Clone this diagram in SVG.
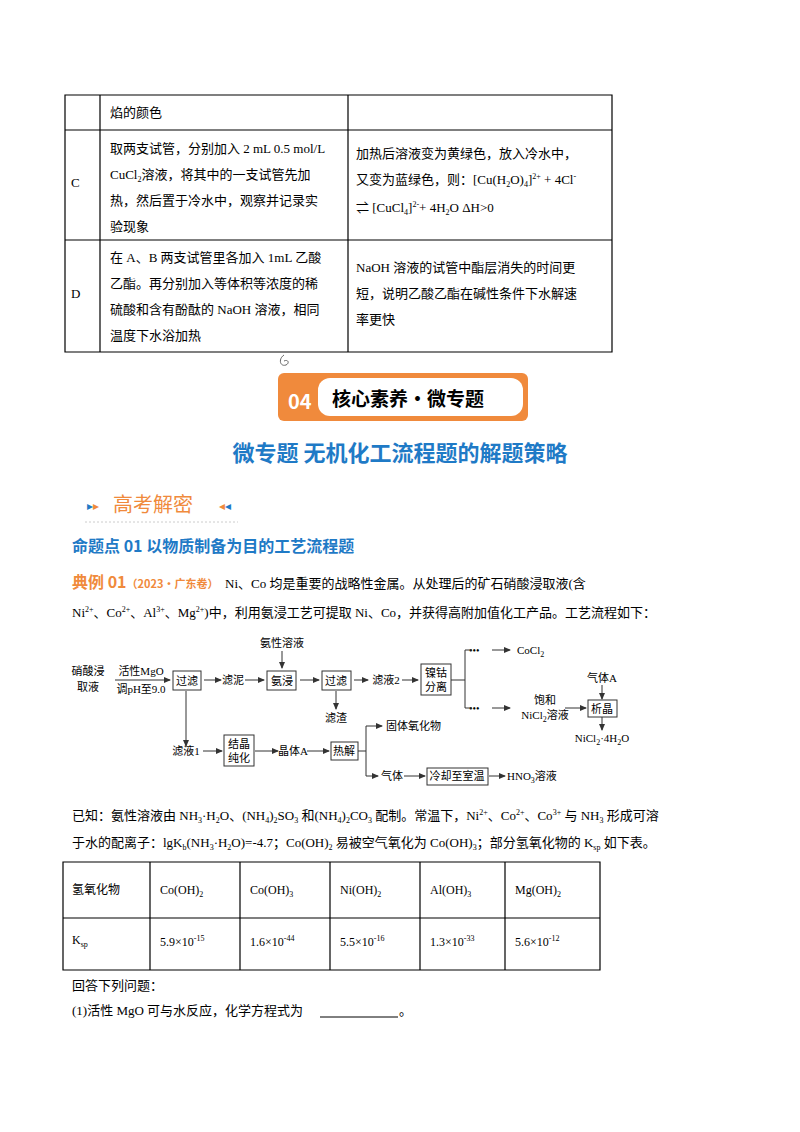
<svg xmlns="http://www.w3.org/2000/svg" width="800" height="1132" viewBox="0 0 800 1132">
<style>
text{font-family:"Liberation Serif","Noto Sans CJK SC",serif;font-size:13px;fill:#000}
.s{font-size:12px}
.f{font-size:11px}
.t{stroke:#000;stroke-width:1.2;fill:none}
.b{fill:#fff;stroke:#333;stroke-width:1}
.c{stroke:#333;stroke-width:1;fill:none}
.sub{font-size:8px}
.h{font-family:"Noto Sans CJK SC",sans-serif;font-weight:bold}
</style>
<defs><marker id="a" markerWidth="7" markerHeight="6" refX="6" refY="3" orient="auto"><path d="M0,0L7,3L0,6z" fill="#333"/></marker></defs>
<rect width="800" height="1132" fill="#fff"/>
<g id="table1">
<path class="t" d="M65,95V352H612V95ZM100,95V352M348,95V352M65,130H612M65,240H612"/>
<text x="110" y="117">焰的颜色</text>
<text x="71" y="187">C</text>
<text x="110" y="153">取两支试管，分别加入 2 mL 0.5 mol/L</text>
<text x="110" y="179">CuCl<tspan class="sub" dy="3">2</tspan><tspan dy="-3">溶液，将其中的一支试管先加</tspan></text>
<text x="110" y="205">热，然后置于冷水中，观察并记录实</text>
<text x="110" y="231">验现象</text>
<text x="356" y="158">加热后溶液变为黄绿色，放入冷水中，</text>
<text x="356" y="184">又变为蓝绿色，则：[Cu(H<tspan class="sub" dy="3">2</tspan><tspan dy="-3">O)</tspan><tspan class="sub" dy="3">4</tspan><tspan dy="-3">]</tspan><tspan class="sub" dy="-5">2+</tspan><tspan dy="5"> + 4Cl</tspan><tspan class="sub" dy="-5">-</tspan></text>
<text x="356" y="212">⇌ [CuCl<tspan class="sub" dy="3">4</tspan><tspan dy="-3">]</tspan><tspan class="sub" dy="-5">2-</tspan><tspan dy="5">+ 4H</tspan><tspan class="sub" dy="3">2</tspan><tspan dy="-3">O  ΔH&gt;0</tspan></text>
<text x="71" y="298">D</text>
<text x="110" y="262">在 A、B 两支试管里各加入 1mL 乙酸</text>
<text x="110" y="288">乙酯。再分别加入等体积等浓度的稀</text>
<text x="110" y="314">硫酸和含有酚酞的 NaOH 溶液，相同</text>
<text x="110" y="340">温度下水浴加热</text>
<text x="356" y="272">NaOH 溶液的试管中酯层消失的时间更</text>
<text x="356" y="298">短，说明乙酸乙酯在碱性条件下水解速</text>
<text x="356" y="324">率更快</text>
</g>
<g id="banner">
<path d="M284,355c-6,4 -4,12 2,10c4,-2 2,-6 -2,-4" stroke="#666" fill="none"/>
<rect x="278" y="373" width="250" height="48" rx="6" fill="#f08a3c"/>
<rect x="318" y="378" width="205" height="38" rx="12" fill="#fff"/>
<text x="288" y="409" class="h" style="font-size:20px;fill:#fff">04</text>
<text x="332" y="406" class="h" style="font-size:19px">核心素养·微专题</text>
<text x="400" y="461" class="h" text-anchor="middle" style="font-size:22px;fill:#1f7ac6">微专题  无机化工流程题的解题策略</text>
<text x="87" y="510" style="font-size:12px;fill:#1f7ac6">▸<tspan fill="#f08a3c">▸</tspan></text>
<text x="113" y="512" style="font-family:'Noto Sans CJK SC',sans-serif;font-size:20px;fill:#f08a3c">高考解密</text>
<text x="219" y="510" style="font-size:12px;fill:#f08a3c">◂<tspan fill="#1f7ac6">◂</tspan></text>
<line x1="85" y1="522" x2="238" y2="522" stroke="#ccc" stroke-dasharray="2,2"/>
<text x="72" y="552" class="h" style="font-size:16px;fill:#1f7ac6">命题点 01  以物质制备为目的工艺流程题</text>
<text x="72" y="588" class="h" style="font-size:16px;fill:#f08a3c">典例 01<tspan style="font-size:11px">（2023·广东卷）</tspan></text>
<text x="225" y="588">Ni、Co 均是重要的战略性金属。从处理后的矿石硝酸浸取液(含</text>
<text x="72" y="617">Ni<tspan class="sub" dy="-5">2+</tspan><tspan dy="5">、Co</tspan><tspan class="sub" dy="-5">2+</tspan><tspan dy="5">、Al</tspan><tspan class="sub" dy="-5">3+</tspan><tspan dy="5">、Mg</tspan><tspan class="sub" dy="-5">2+</tspan><tspan dy="5">)中，利用氨浸工艺可提取 Ni、Co，并获得高附加值化工产品。工艺流程如下：</tspan></text>
</g>
<g id="connectors" class="c">
<line x1="115" y1="680" x2="170" y2="680" marker-end="url(#a)"/>
<line x1="204" y1="680" x2="221" y2="680" marker-end="url(#a)"/>
<line x1="245" y1="680" x2="264" y2="680" marker-end="url(#a)"/>
<line x1="282" y1="651" x2="282" y2="668" marker-end="url(#a)"/>
<line x1="300" y1="680" x2="319" y2="680" marker-end="url(#a)"/>
<line x1="336" y1="691" x2="336" y2="709" marker-end="url(#a)"/>
<line x1="354" y1="680" x2="368" y2="680" marker-end="url(#a)"/>
<line x1="402" y1="680" x2="418" y2="680" marker-end="url(#a)"/>
<path d="M451,680H465M465,650V708"/>
<text x="469" y="654" style="font-size:10px;stroke:none">•••</text>
<text x="469" y="712" style="font-size:10px;stroke:none">•••</text>
<line x1="465" y1="650" x2="472" y2="650"/>
<line x1="465" y1="708" x2="472" y2="708"/>
<line x1="492" y1="650" x2="510" y2="650" marker-end="url(#a)"/>
<line x1="492" y1="708" x2="510" y2="708" marker-end="url(#a)"/>
<line x1="565" y1="708" x2="586" y2="708" marker-end="url(#a)"/>
<line x1="602" y1="685" x2="602" y2="699" marker-end="url(#a)"/>
<line x1="602" y1="717" x2="602" y2="730" marker-end="url(#a)"/>
<line x1="186" y1="691" x2="186" y2="746" marker-end="url(#a)"/>
<line x1="203" y1="751" x2="222" y2="751" marker-end="url(#a)"/>
<line x1="255" y1="751" x2="278" y2="751" marker-end="url(#a)"/>
<line x1="307" y1="751" x2="329" y2="751" marker-end="url(#a)"/>
<path d="M358,751H366M366,726V776"/>
<line x1="366" y1="726" x2="382" y2="726" marker-end="url(#a)"/>
<line x1="366" y1="776" x2="378" y2="776" marker-end="url(#a)"/>
<line x1="404" y1="776" x2="425" y2="776" marker-end="url(#a)"/>
<line x1="489" y1="776" x2="505" y2="776" marker-end="url(#a)"/>
</g>
<g id="flow" class="f">
<g id="n0"><text x="88" y="675" class="f" text-anchor="middle">硝酸浸</text><text x="88" y="691" class="f" text-anchor="middle">取液</text></g>
<g id="n1"><text x="141" y="675" class="f" text-anchor="middle">活性MgO</text><text x="141" y="693" class="f" text-anchor="middle">调pH至9.0</text></g>
<g id="n2"><rect class="b" x="173" y="671" width="28" height="19"/><text x="187" y="685" class="f" text-anchor="middle">过滤</text></g>
<g id="n3"><text x="233" y="684" class="f" text-anchor="middle">滤泥</text></g>
<g id="n4"><rect class="b" x="267" y="671" width="29" height="19"/><text x="282" y="685" class="f" text-anchor="middle">氨浸</text></g>
<g id="n5"><text x="282" y="647" class="f" text-anchor="middle">氨性溶液</text></g>
<g id="n6"><rect class="b" x="322" y="671" width="29" height="19"/><text x="336" y="685" class="f" text-anchor="middle">过滤</text></g>
<g id="n7"><text x="336" y="722" class="f" text-anchor="middle">滤渣</text></g>
<g id="n8"><text x="386" y="684" class="f" text-anchor="middle">滤液2</text></g>
<g id="n9"><rect class="b" x="421" y="664" width="30" height="31"/><text x="436" y="677" class="f" text-anchor="middle">镍钴</text><text x="436" y="691" class="f" text-anchor="middle">分离</text></g>
<g id="n10"><text x="517" y="654" class="f">CoCl<tspan class="sub" dy="3">2</tspan></text></g>
<g id="n11"><text x="545" y="704" class="f" text-anchor="middle">饱和</text><text x="545" y="719" class="f" text-anchor="middle">NiCl<tspan class="sub" dy="3">2</tspan><tspan dy="-3">溶液</tspan></text></g>
<g id="n12"><text x="602" y="682" class="f" text-anchor="middle">气体A</text></g>
<g id="n13"><rect class="b" x="588" y="700" width="29" height="17"/><text x="602" y="713" class="f" text-anchor="middle">析晶</text></g>
<g id="n14"><text x="602" y="742" class="f" text-anchor="middle">NiCl<tspan class="sub" dy="3">2</tspan><tspan dy="-3">·4H</tspan><tspan class="sub" dy="3">2</tspan><tspan dy="-3">O</tspan></text></g>
<g id="n15"><text x="186" y="755" class="f" text-anchor="middle">滤液1</text></g>
<g id="n16"><rect class="b" x="224" y="735" width="30" height="31"/><text x="239" y="748" class="f" text-anchor="middle">结晶</text><text x="239" y="762" class="f" text-anchor="middle">纯化</text></g>
<g id="n17"><text x="293" y="755" class="f" text-anchor="middle">晶体A</text></g>
<g id="n18"><rect class="b" x="331" y="742" width="27" height="18"/><text x="344" y="755" class="f" text-anchor="middle">热解</text></g>
<g id="n19"><text x="386" y="730" class="f">固体氧化物</text></g>
<g id="n20"><text x="381" y="780" class="f">气体</text></g>
<g id="n21"><rect class="b" x="427" y="768" width="61" height="17"/><text x="457" y="780" class="f" text-anchor="middle">冷却至室温</text></g>
<g id="n22"><text x="507" y="780" class="f">HNO<tspan class="sub" dy="3">3</tspan><tspan dy="-3">溶液</tspan></text></g>
</g>
<g id="text2">
<text x="72" y="820">已知：氨性溶液由 NH<tspan class="sub" dy="3">3</tspan><tspan dy="-3">·H</tspan><tspan class="sub" dy="3">2</tspan><tspan dy="-3">O、(NH</tspan><tspan class="sub" dy="3">4</tspan><tspan dy="-3">)</tspan><tspan class="sub" dy="3">2</tspan><tspan dy="-3">SO</tspan><tspan class="sub" dy="3">3</tspan><tspan dy="-3"> 和(NH</tspan><tspan class="sub" dy="3">4</tspan><tspan dy="-3">)</tspan><tspan class="sub" dy="3">2</tspan><tspan dy="-3">CO</tspan><tspan class="sub" dy="3">3</tspan><tspan dy="-3"> 配制。常温下，Ni</tspan><tspan class="sub" dy="-5">2+</tspan><tspan dy="5">、Co</tspan><tspan class="sub" dy="-5">2+</tspan><tspan dy="5">、Co</tspan><tspan class="sub" dy="-5">3+</tspan><tspan dy="5"> 与 NH</tspan><tspan class="sub" dy="3">3</tspan><tspan dy="-3"> 形成可溶</tspan></text>
<text x="72" y="847">于水的配离子：lgK<tspan class="sub" dy="3">b</tspan><tspan dy="-3">(NH</tspan><tspan class="sub" dy="3">3</tspan><tspan dy="-3">·H</tspan><tspan class="sub" dy="3">2</tspan><tspan dy="-3">O)=-4.7；Co(OH)</tspan><tspan class="sub" dy="3">2</tspan><tspan dy="-3"> 易被空气氧化为 Co(OH)</tspan><tspan class="sub" dy="3">3</tspan><tspan dy="-3">；部分氢氧化物的 K</tspan><tspan class="sub" dy="3">sp</tspan><tspan dy="-3"> 如下表。</tspan></text>
</g>
<g id="table2">
<path class="t" d="M63,862V970H600V862ZM63,918H600M150,862V970M240,862V970M330,862V970M420,862V970M505,862V970"/>
<text x="72" y="894" class="s">氢氧化物</text>
<text x="160" y="894" class="s">Co(OH)<tspan class="sub" dy="3">2</tspan></text>
<text x="250" y="894" class="s">Co(OH)<tspan class="sub" dy="3">3</tspan></text>
<text x="340" y="894" class="s">Ni(OH)<tspan class="sub" dy="3">2</tspan></text>
<text x="430" y="894" class="s">Al(OH)<tspan class="sub" dy="3">3</tspan></text>
<text x="515" y="894" class="s">Mg(OH)<tspan class="sub" dy="3">2</tspan></text>
<text x="72" y="944" class="s">K<tspan class="sub" dy="3">sp</tspan></text>
<text x="160" y="946" class="s">5.9×10<tspan class="sub" dy="-5">-15</tspan></text>
<text x="250" y="946" class="s">1.6×10<tspan class="sub" dy="-5">-44</tspan></text>
<text x="340" y="946" class="s">5.5×10<tspan class="sub" dy="-5">-16</tspan></text>
<text x="430" y="946" class="s">1.3×10<tspan class="sub" dy="-5">-33</tspan></text>
<text x="515" y="946" class="s">5.6×10<tspan class="sub" dy="-5">-12</tspan></text>
</g>
<text x="72" y="990">回答下列问题：</text>
<text x="72" y="1015">(1)活性 MgO 可与水反应，化学方程式为</text>
<line x1="320" y1="1017" x2="398" y2="1017" stroke="#000"/>
<text x="399" y="1015">。</text>
</svg>
